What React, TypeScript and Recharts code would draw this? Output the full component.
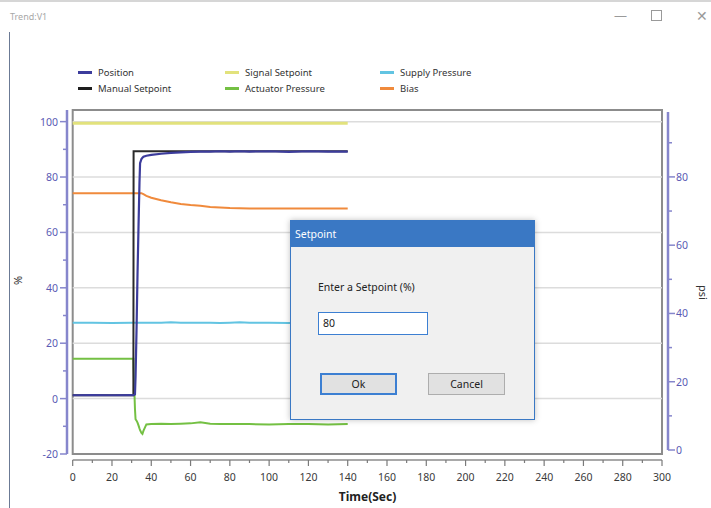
import { LineChart, Line, XAxis, YAxis, ReferenceLine, ReferenceArea } from 'recharts';

// time in seconds
const times = [0, 10, 20, 30, 30.9, 31, 31.7, 32, 32.5, 33, 33.5, 34, 34.3, 35, 35.5, 36, 37.5, 40, 45, 50, 55, 60, 65, 70, 75, 80, 85, 90, 100, 110, 120, 130, 140];

// % series (left axis)
const position = [1.2, 1.3, 1.2, 1.3, 1.2, 1.2, 1.5, 8, 25, 45, 62, 78, 85, 86.5, 87, 87.3, 87.7, 88, 88.4, 88.7, 88.9, 89.1, 89.2, 89.2, 89.3, 89.2, 89.3, 89.2, 89.3, 89.1, 89.3, 89.2, 89.2];
const manualSetpoint = [1.2, 1.2, 1.2, 1.2, 1.2, 89.3, 89.3, 89.3, 89.3, 89.3, 89.3, 89.3, 89.3, 89.3, 89.3, 89.3, 89.3, 89.3, 89.3, 89.3, 89.3, 89.3, 89.3, 89.3, 89.3, 89.3, 89.3, 89.3, 89.3, 89.3, 89.3, 89.3, 89.3];
const signalSetpoint = [99.4, 99.4, 99.4, 99.4, 99.4, 99.4, 99.4, 99.4, 99.4, 99.4, 99.4, 99.4, 99.4, 99.4, 99.4, 99.4, 99.4, 99.4, 99.4, 99.4, 99.4, 99.4, 99.4, 99.4, 99.4, 99.4, 99.4, 99.4, 99.4, 99.4, 99.4, 99.4, 99.4];
const bias = [74.1, 74.1, 74.1, 74.1, 74.1, 74.1, 74.1, 74.1, 74.1, 74.1, 74.1, 74.1, 74.1, 74.1, 74, 73.8, 73.2, 72.5, 71.6, 70.9, 70.3, 69.9, 69.6, 69.2, 69, 68.8, 68.7, 68.6, 68.6, 68.6, 68.6, 68.6, 68.6];

// psi series (right axis)
const supplyPressure = [37.3, 37.3, 37.2, 37.3, 37.3, 37.3, 37.3, 37.3, 37.3, 37.3, 37.3, 37.3, 37.3, 37.3, 37.3, 37.3, 37.3, 37.3, 37.3, 37.4, 37.3, 37.3, 37.3, 37.3, 37.2, 37.3, 37.4, 37.3, 37.3, 37.2, 37.3, 37.3, 37.3];
const actuatorPressure = [26.7, 26.7, 26.7, 26.7, 26.7, 24, 12, 9, 8.6, 8, 7.2, 6.3, 5.8, 5, 4.7, 5.6, 7.5, 7.6, 7.7, 7.6, 7.7, 7.8, 8.1, 7.7, 7.6, 7.6, 7.6, 7.6, 7.5, 7.6, 7.6, 7.5, 7.6];

const xTicks = [0, 10, 20, 30, 40, 50, 60, 70, 80, 90, 100, 110, 120, 130, 140, 150, 160, 170, 180, 190, 200, 210, 220, 230, 240, 250, 260, 270, 280, 290, 300];
const leftTicks = [-20, -10, 0, 10, 20, 30, 40, 50, 60, 70, 80, 90, 100];
const rightTicks = [0, 10, 20, 30, 40, 50, 60, 70, 80, 90];
const gridValues = [0, 20, 40, 60, 80, 100];

const xDomain = [-2.9, 303.05];
const leftDomain = [-22.17, 104.2];
const rightDomain = [-2.93, 99.6];

const data = times.map((t, i) => ({
  t,
  position: position[i],
  manualSetpoint: manualSetpoint[i],
  signalSetpoint: signalSetpoint[i],
  bias: bias[i],
  supplyPressure: supplyPressure[i],
  actuatorPressure: actuatorPressure[i],
}));

const legendItems = [
  { name: 'Position', color: '#3c3c9c', left: 78, top: 72 },
  { name: 'Manual Setpoint', color: '#1e1e1e', left: 78, top: 88 },
  { name: 'Signal Setpoint', color: '#e2e27c', left: 225, top: 72 },
  { name: 'Actuator Pressure', color: '#74c043', left: 225, top: 88 },
  { name: 'Supply Pressure', color: '#62c4e2', left: 380, top: 72 },
  { name: 'Bias', color: '#f08a3c', left: 380, top: 88 },
];

const axisPurple = '#8686cc';
const labelPurple = '#5a5ab4';
const font = '"Noto Sans", "Open Sans", sans-serif';

function LeftTick({ x, y, payload }: any) {
  const v = payload.value;
  const major = v % 20 === 0;
  return (
    <g>
      <line x1={x - (major ? 7 : 4)} x2={x} y1={y} y2={y} stroke={axisPurple} strokeWidth={1.5} />
      {major && (
        <text x={x - 9} y={y} dy={4} textAnchor='end' fill={labelPurple} fontSize={10.5} fontFamily={font}>
          {v}
        </text>
      )}
    </g>
  );
}

function RightTick({ x, y, payload }: any) {
  const v = payload.value;
  const major = v % 20 === 0;
  return (
    <g>
      <line x1={x} x2={x + (major ? 7 : 4)} y1={y} y2={y} stroke={axisPurple} strokeWidth={1.5} />
      {major && (
        <text x={x + 8} y={y} dy={4} textAnchor='start' fill={labelPurple} fontSize={10.5} fontFamily={font}>
          {v}
        </text>
      )}
    </g>
  );
}

function BottomTick({ x, y, payload }: any) {
  const v = payload.value;
  const major = v % 20 === 0;
  return (
    <g>
      <line x1={x} x2={x} y1={y} y2={y + (major ? 6 : 3)} stroke='#7a7a7a' strokeWidth={1.2} />
      {major && (
        <text x={x} y={y + 21} textAnchor='middle' fill='#3a3a3a' fontSize={10.5} fontFamily={font}>
          {v}
        </text>
      )}
    </g>
  );
}

export default function App() {
  return (
    <div
      style={{
        position: 'fixed',
        left: 0,
        top: 0,
        width: 711,
        height: 508,
        background: '#ffffff',
        overflow: 'hidden',
        fontFamily: font,
      }}
    >
      {/* window title bar */}
      <div style={{ position: 'absolute', left: 0, top: 0, width: 711, height: 2, background: '#d6d6d6' }} />
      <div style={{ position: 'absolute', left: 10, top: 10, fontSize: 9, color: '#a8a8a8' }}>Trend:V1</div>
      <div style={{ position: 'absolute', left: 614, top: 6, fontSize: 13, color: '#9a9a9a' }}>—</div>
      <div style={{ position: 'absolute', left: 651, top: 10, width: 9, height: 9, border: '1px solid #9a9a9a' }} />
      <div style={{ position: 'absolute', left: 696, top: 6, fontSize: 14, color: '#9a9a9a' }}>✕</div>
      <div style={{ position: 'absolute', left: 9, top: 32, width: 1, height: 476, background: '#6b7a95' }} />

      {/* legend */}
      {legendItems.map((item) => (
        <div
          key={item.name}
          style={{ position: 'absolute', left: item.left, top: item.top - 7, height: 14, display: 'flex', alignItems: 'center' }}
        >
          <div style={{ width: 14, height: 3, background: item.color, marginRight: 6 }} />
          <span style={{ fontSize: 9.5, color: '#333333' }}>{item.name}</span>
        </div>
      ))}

      <div style={{ position: 'absolute', left: 0, top: 0 }}>
        <LineChart width={711} height={508} data={data} margin={{ top: 110, right: 13, bottom: 0, left: 7 }}>
          <XAxis
            dataKey='t'
            type='number'
            domain={xDomain}
            ticks={xTicks}
            interval={0}
            allowDataOverflow
            axisLine={false}
            tickLine={false}
            tickSize={0}
            tickMargin={0}
            height={48}
            tick={<BottomTick />}
            label={{ value: 'Time(Sec)', position: 'insideBottom', offset: 7, fill: '#222', fontSize: 12, fontWeight: 700, fontFamily: font }}
          />
          <YAxis
            yAxisId='left'
            type='number'
            domain={leftDomain}
            ticks={leftTicks}
            interval={0}
            allowDataOverflow
            axisLine={false}
            tickLine={false}
            tickSize={0}
            tickMargin={0}
            width={60}
            tick={<LeftTick />}
            label={{ value: '%', angle: -90, position: 'insideLeft', offset: 11, fill: '#333', fontSize: 11, fontFamily: font }}
          />
          <YAxis
            yAxisId='right'
            orientation='right'
            type='number'
            domain={rightDomain}
            ticks={rightTicks}
            interval={0}
            allowDataOverflow
            axisLine={false}
            tickLine={false}
            tickSize={0}
            tickMargin={0}
            width={30}
            tick={<RightTick />}
            label={{ value: 'psi', angle: 90, position: 'right', offset: 5, fill: '#333', fontSize: 11, fontFamily: font }}
          />

          {gridValues.map((v) => (
            <ReferenceLine
              key={v}
              yAxisId='left'
              segment={[{ x: 0, y: v }, { x: 300, y: v }]}
              stroke='#dcdcdc'
              strokeWidth={1.5}
              ifOverflow='visible'
            />
          ))}
          <ReferenceArea
            yAxisId='left'
            x1={0}
            x2={300}
            y1={-20}
            y2={leftDomain[1]}
            fill='none'
            stroke='#8c8c8c'
            strokeWidth={2}
            ifOverflow='visible'
          />
          {/* axis lines */}
          <ReferenceLine
            yAxisId='left'
            segment={[{ x: xDomain[0], y: -20 }, { x: xDomain[0], y: leftDomain[1] }]}
            stroke={axisPurple}
            strokeWidth={2.5}
            ifOverflow='visible'
          />
          <ReferenceLine
            yAxisId='right'
            segment={[{ x: xDomain[1], y: 0 }, { x: xDomain[1], y: 99 }]}
            stroke={axisPurple}
            strokeWidth={2.5}
            ifOverflow='visible'
          />
          <ReferenceLine
            yAxisId='left'
            segment={[{ x: 0, y: leftDomain[0] }, { x: 300, y: leftDomain[0] }]}
            stroke='#8c8c8c'
            strokeWidth={1.5}
            ifOverflow='visible'
          />

          <Line yAxisId='left' dataKey='signalSetpoint' stroke='#e2e27c' strokeWidth={3} dot={false} type='linear' isAnimationActive={false} />
          <Line yAxisId='right' dataKey='supplyPressure' stroke='#62c4e2' strokeWidth={2} dot={false} type='linear' isAnimationActive={false} />
          <Line yAxisId='right' dataKey='actuatorPressure' stroke='#74c043' strokeWidth={2} dot={false} type='linear' isAnimationActive={false} />
          <Line yAxisId='left' dataKey='bias' stroke='#f08a3c' strokeWidth={2} dot={false} type='linear' isAnimationActive={false} />
          <Line yAxisId='left' dataKey='manualSetpoint' stroke='#2a2a2a' strokeWidth={2} dot={false} type='linear' isAnimationActive={false} />
          <Line yAxisId='left' dataKey='position' stroke='#3c3c9c' strokeWidth={2.2} dot={false} type='linear' isAnimationActive={false} />
        </LineChart>
      </div>

      {/* Setpoint dialog */}
      <div
        style={{
          position: 'absolute',
          left: 290,
          top: 220,
          width: 245,
          height: 200,
          background: '#f0f0f0',
          border: '1px solid #3a78c4',
          boxSizing: 'border-box',
          boxShadow: '0 0 6px rgba(0,0,0,0.25)',
        }}
      >
        <div style={{ height: 26, background: '#3a78c4', color: '#ffffff', fontSize: 10.5, lineHeight: '26px', paddingLeft: 4 }}>
          Setpoint
        </div>
        <div style={{ position: 'absolute', left: 27, top: 59, fontSize: 10.5, color: '#222222' }}>Enter a Setpoint (%)</div>
        <div
          style={{
            position: 'absolute',
            left: 27,
            top: 91,
            width: 110,
            height: 23,
            boxSizing: 'border-box',
            background: '#ffffff',
            border: '1px solid #3c7fd2',
            fontSize: 10.5,
            lineHeight: '21px',
            paddingLeft: 4,
            color: '#222222',
          }}
        >
          80
        </div>
        <div
          style={{
            position: 'absolute',
            left: 29,
            top: 152,
            width: 77,
            height: 22,
            boxSizing: 'border-box',
            background: '#e1e1e1',
            border: '2px solid #3c7fd2',
            fontSize: 10.5,
            lineHeight: '18px',
            textAlign: 'center',
            color: '#222222',
          }}
        >
          Ok
        </div>
        <div
          style={{
            position: 'absolute',
            left: 137,
            top: 152,
            width: 77,
            height: 22,
            boxSizing: 'border-box',
            background: '#e1e1e1',
            border: '1px solid #adadad',
            fontSize: 10.5,
            lineHeight: '20px',
            textAlign: 'center',
            color: '#222222',
          }}
        >
          Cancel
        </div>
      </div>
    </div>
  );
}
